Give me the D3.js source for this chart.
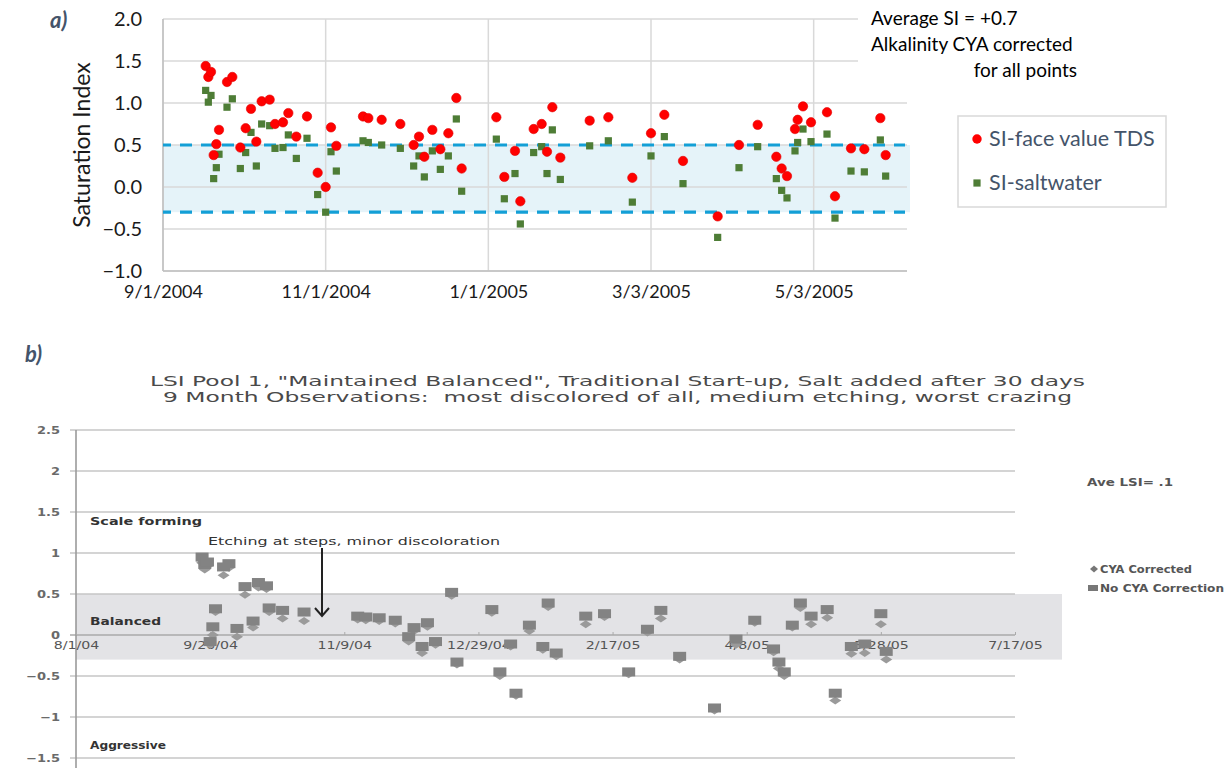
<!DOCTYPE html>
<html lang="en">
<head>
  <meta charset="UTF-8">
  <title>Saturation Index</title>
  <script src="https://d3js.org/d3.v7.min.js"></script>
  <style>
    body { margin: 0; background: #fff; }
    svg { display: block; }
    .ta { font-family: Lato, "Open Sans", sans-serif; }
    .tb { font-family: "DejaVu Sans", Verdana, sans-serif; }
  </style>
</head>
<body>
<div id="chart"></div>
<script>
// ---------- panel a data ----------
var aDates = ["9/17/2004","9/18/2004","9/19/2004","9/20/2004","9/21/2004","9/22/2004","9/25/2004","9/27/2004","9/30/2004","10/2/2004",
  "10/4/2004","10/6/2004","10/8/2004","10/11/2004","10/13/2004","10/16/2004","10/18/2004","10/21/2004","10/25/2004","10/29/2004",
  "11/1/2004","11/3/2004","11/5/2004","11/15/2004","11/17/2004","11/22/2004","11/29/2004","12/4/2004","12/6/2004","12/8/2004",
  "12/11/2004","12/14/2004","12/17/2004","12/20/2004","12/22/2004","1/4/2005","1/7/2005","1/11/2005","1/13/2005","1/18/2005",
  "1/21/2005","1/23/2005","1/25/2005","1/28/2005","2/8/2005","2/15/2005","2/24/2005","3/3/2005","3/8/2005","3/15/2005",
  "3/28/2005","4/5/2005","4/12/2005","4/19/2005","4/21/2005","4/23/2005","4/26/2005","4/27/2005","4/29/2005","5/2/2005",
  "5/8/2005","5/11/2005","5/17/2005","5/22/2005","5/28/2005","5/30/2005"];
var aFaceTDS = [1.44,1.31,1.37,0.38,0.51,0.68,1.25,1.31,0.47,0.70,0.93,0.54,1.02,1.04,0.75,0.77,0.88,0.60,0.84,0.17,
  0.00,0.71,0.49,0.84,0.82,0.80,0.75,0.50,0.60,0.36,0.68,0.45,0.64,1.06,0.22,0.83,0.12,0.43,-0.17,0.69,
  0.75,0.42,0.95,0.35,0.79,0.83,0.11,0.64,0.86,0.31,-0.35,0.50,0.74,0.36,0.22,0.13,0.69,0.80,0.96,0.77,
  0.89,-0.11,0.46,0.45,0.82,0.38];
var aSaltwater = [1.15,1.01,1.09,0.10,0.23,0.39,0.95,1.05,0.22,0.41,0.65,0.25,0.75,0.73,0.46,0.47,0.62,0.34,0.58,-0.09,
  -0.30,0.42,0.19,0.55,0.53,0.50,0.46,0.25,0.37,0.12,0.43,0.21,0.37,0.81,-0.05,0.57,-0.14,0.16,-0.44,0.41,
  0.48,0.16,0.68,0.09,0.49,0.55,-0.18,0.37,0.60,0.04,-0.60,0.23,0.48,0.10,-0.04,-0.13,0.43,0.53,0.69,0.54,
  0.63,-0.37,0.19,0.18,0.56,0.13];
var aXTicks = ["9/1/2004","11/1/2004","1/1/2005","3/3/2005","5/3/2005"];
var aYTicks = [-1, -0.5, 0, 0.5, 1, 1.5, 2];
var aBand = [-0.3, 0.5];

// ---------- panel b data ----------
var bDates = ["9/17/2004","9/18/2004","9/19/2004","9/20/2004","9/21/2004","9/22/2004","9/25/2004","9/27/2004","9/30/2004","10/3/2004",
  "10/6/2004","10/8/2004","10/11/2004","10/12/2004","10/17/2004","10/25/2004","11/14/2004","11/17/2004","11/22/2004","11/28/2004",
  "12/3/2004","12/5/2004","12/8/2004","12/10/2004","12/13/2004","12/19/2004","12/21/2004","1/3/2005","1/6/2005","1/10/2005",
  "1/12/2005","1/17/2005","1/22/2005","1/24/2005","1/27/2005","2/7/2005","2/14/2005","2/23/2005","3/2/2005","3/7/2005",
  "3/14/2005","3/27/2005","4/4/2005","4/11/2005","4/18/2005","4/20/2005","4/22/2005","4/25/2005","4/28/2005","5/2/2005",
  "5/8/2005","5/11/2005","5/17/2005","5/22/2005","5/28/2005","5/30/2005"];
var bNoCYA = [0.95,0.86,0.89,-0.08,0.10,0.32,0.83,0.87,0.08,0.59,0.17,0.64,0.60,0.33,0.30,0.28,0.23,0.22,0.21,0.18,
  -0.02,0.09,-0.14,0.15,-0.08,0.52,-0.33,0.31,-0.45,-0.11,-0.71,0.12,-0.14,0.39,-0.22,0.23,0.26,-0.45,0.07,0.30,
  -0.26,-0.89,-0.05,0.18,-0.17,-0.33,-0.45,0.12,0.39,0.23,0.31,-0.71,-0.14,-0.11,0.26,-0.20];
var bCYA = [0.88,0.80,0.84,-0.12,0.00,0.28,0.73,0.82,-0.02,0.49,0.09,0.58,0.56,0.28,0.20,0.17,0.19,0.18,0.17,0.14,
  -0.08,0.05,-0.22,0.10,-0.12,0.48,-0.36,0.27,-0.50,-0.14,-0.74,0.05,-0.18,0.34,-0.26,0.13,0.22,-0.48,0.03,0.20,
  -0.30,-0.92,-0.12,0.15,-0.21,-0.41,-0.50,0.09,0.33,0.13,0.21,-0.80,-0.23,-0.22,0.13,-0.30];
var bXTicks = ["8/1/2004","9/20/2004","11/9/2004","12/29/2004","2/17/2005","4/8/2005","5/28/2005","7/17/2005"];
var bYTicks = [-1.5, -1, -0.5, 0, 0.5, 1, 1.5, 2, 2.5];
var bBand = [-0.3, 0.5];

var parse = d3.utcParse("%m/%d/%Y");

// the second figure is a horizontally stretched scan: widen its glyphs
function stretch(sel, k) {
  sel.each(function() {
    var w = this.getComputedTextLength();
    d3.select(this).attr("textLength", w * k).attr("lengthAdjust", "spacingAndGlyphs");
  });
}

var svg = d3.select("#chart").append("svg")
  .attr("width", 1231).attr("height", 768);

// =============== PANEL A ===============
var ax = d3.scaleUtc().domain([parse("9/1/2004"), parse("6/7/2005")]).range([163, 907]);
var ay = d3.scaleLinear().domain([-1, 2]).range([271, 19]);
var ga = svg.append("g").attr("class", "ta");

// shaded band + gridlines
ga.append("rect")
  .attr("x", ax.range()[0]).attr("width", 910 - ax.range()[0])
  .attr("y", ay(aBand[1])).attr("height", ay(aBand[0]) - ay(aBand[1]))
  .attr("fill", "#e5f3f9");
ga.selectAll(".hg").data(aYTicks).enter().append("line")
  .attr("x1", ax.range()[0]).attr("x2", ax.range()[1])
  .attr("y1", d => ay(d)).attr("y2", d => ay(d))
  .attr("stroke", "#d9d9d9").attr("stroke-width", 1.5);
ga.selectAll(".vg").data(aXTicks.map(parse)).enter().append("line")
  .attr("x1", d => ax(d)).attr("x2", d => ax(d))
  .attr("y1", ay(2)).attr("y2", ay(-1))
  .attr("stroke", "#d9d9d9").attr("stroke-width", 1.5);
ga.append("line").attr("x1", ax.range()[0]).attr("x2", ax.range()[0]).attr("y1", ay(2)).attr("y2", ay(-1))
  .attr("stroke", "#bfbfbf").attr("stroke-width", 1.5);
ga.append("line").attr("x1", ax.range()[0]).attr("x2", ax.range()[1]).attr("y1", ay(-1)).attr("y2", ay(-1))
  .attr("stroke", "#bfbfbf").attr("stroke-width", 1.5);

// dashed limits
ga.selectAll(".dash").data(aBand).enter().append("line")
  .attr("x1", 163).attr("x2", 905)
  .attr("y1", d => ay(d)).attr("y2", d => ay(d))
  .attr("stroke", "#139fd6").attr("stroke-width", 3.2)
  .attr("stroke-dasharray", "12,9").attr("stroke-dashoffset", 4);

// axes labels
var yA = d3.axisLeft(ay).tickValues(aYTicks).tickFormat(d3.format(".1f")).tickSize(0).tickPadding(21);
ga.append("g").attr("transform", "translate(163,0)").call(yA)
  .call(g => g.select(".domain").remove())
  .selectAll("text").attr("font-size", 20).attr("fill", "#1a1a1a").attr("font-family", "Lato, sans-serif");
var xA = d3.axisBottom(ax).tickValues(aXTicks.map(parse)).tickFormat(d3.utcFormat("%-m/%-d/%Y")).tickSize(0).tickPadding(14);
ga.append("g").attr("transform", "translate(0," + ay(-1) + ")").call(xA)
  .call(g => g.select(".domain").remove())
  .selectAll("text").attr("font-size", 18).attr("fill", "#1a1a1a").attr("font-family", "Lato, sans-serif");

ga.append("text").attr("transform", "translate(90,145) rotate(-90)")
  .attr("text-anchor", "middle").attr("font-size", 23).attr("fill", "#1a1a1a")
  .text("Saturation Index");

// markers
ga.selectAll(".sw").data(aDates).enter().append("rect")
  .attr("x", (d, i) => ax(parse(d)) - 3.6).attr("y", (d, i) => ay(aSaltwater[i]) - 3.6)
  .attr("width", 7.2).attr("height", 7.2).attr("fill", "#4e7d36");
ga.selectAll(".tds").data(aDates).enter().append("circle")
  .attr("cx", d => ax(parse(d))).attr("cy", (d, i) => ay(aFaceTDS[i]))
  .attr("r", 4.7).attr("fill", "#ff0000").attr("stroke", "#e00000").attr("stroke-width", 0.6);

// annotation box
ga.append("rect").attr("x", 858).attr("y", 0).attr("width", 240).attr("height", 86).attr("fill", "#fff");
ga.append("text").attr("x", 871).attr("y", 25).attr("font-size", 19).attr("fill", "#000").text("Average SI = +0.7");
ga.append("text").attr("x", 871).attr("y", 51).attr("font-size", 19).attr("fill", "#000").text("Alkalinity CYA corrected");
ga.append("text").attr("x", 1077).attr("y", 77).attr("font-size", 19).attr("fill", "#000").attr("text-anchor", "end").text("for all points");

// legend
ga.append("rect").attr("x", 958).attr("y", 116).attr("width", 208).attr("height", 91)
  .attr("fill", "#fff").attr("stroke", "#d9d9d9").attr("stroke-width", 1.5);
ga.append("circle").attr("cx", 977).attr("cy", 139).attr("r", 4.7).attr("fill", "#ff0000");
ga.append("text").attr("x", 989).attr("y", 146).attr("font-size", 21.5).attr("fill", "#44546a").text("SI-face value TDS");
ga.append("rect").attr("x", 973.4).attr("y", 179.4).attr("width", 7.2).attr("height", 7.2).attr("fill", "#4e7d36");
ga.append("text").attr("x", 989).attr("y", 190).attr("font-size", 21.5).attr("fill", "#44546a").text("SI-saltwater");

svg.append("text").attr("x", 50).attr("y", 28).attr("font-family", "Lato, sans-serif")
  .attr("font-size", 22).attr("font-weight", "bold").attr("font-style", "italic").attr("fill", "#44546a").text("a)");

// =============== PANEL B ===============
var bx = d3.scaleUtc().domain([parse("8/1/2004"), parse("7/17/2005")]).range([76, 1015]);
var by = d3.scaleLinear().domain([-1.5, 2.5]).range([758, 430]);
var gb = svg.append("g").attr("class", "tb");

svg.append("text").attr("x", 25).attr("y", 362).attr("font-family", "Lato, sans-serif")
  .attr("font-size", 22).attr("font-weight", "bold").attr("font-style", "italic").attr("fill", "#44546a").text("b)");

gb.append("text").attr("x", 150).attr("y", 386).attr("font-size", 14).attr("fill", "#4a4a4a")
  .attr("textLength", 935).attr("lengthAdjust", "spacingAndGlyphs")
  .text("LSI Pool 1, \"Maintained Balanced\", Traditional Start-up, Salt added after 30 days");
gb.append("text").attr("x", 163).attr("y", 402).attr("font-size", 14).attr("fill", "#4a4a4a")
  .attr("textLength", 909).attr("lengthAdjust", "spacingAndGlyphs").style("white-space", "pre")
  .text("9 Month Observations:  most discolored of all, medium etching, worst crazing");

gb.append("rect").attr("x", 76).attr("width", 1062 - 76)
  .attr("y", by(bBand[1])).attr("height", by(bBand[0]) - by(bBand[1]))
  .attr("fill", "#e3e3e6");

gb.selectAll(".hg").data(bYTicks).enter().append("line")
  .attr("x1", 70).attr("x2", bx.range()[1])
  .attr("y1", d => by(d)).attr("y2", d => by(d))
  .attr("stroke", d => d === 0 ? "#aaaaaa" : "#c6c6c6").attr("stroke-width", 1.6);
gb.append("line").attr("x1", 76).attr("x2", 76).attr("y1", by(2.5)).attr("y2", 768)
  .attr("stroke", "#9a9a9a").attr("stroke-width", 1.6);

var yB = d3.axisLeft(by).tickValues(bYTicks).tickFormat(d3.format("")).tickSize(0).tickPadding(16);
gb.append("g").attr("transform", "translate(76,0)").call(yB)
  .call(g => g.select(".domain").remove())
  .selectAll("text").attr("font-size", 10).attr("font-weight", "bold").attr("fill", "#6a6a6a")
  .attr("font-family", "DejaVu Sans, sans-serif")
  .call(stretch, 1.3);

var xB = d3.axisBottom(bx).tickValues(bXTicks.map(parse)).tickFormat(d3.utcFormat("%-m/%-d/%y")).tickSize(-3).tickPadding(8);
gb.append("g").attr("transform", "translate(0," + by(0) + ")").call(xB)
  .call(g => g.select(".domain").remove())
  .call(g => g.selectAll("line").attr("stroke", "#aaaaaa"))
  .selectAll("text").attr("font-size", 10.5).attr("fill", "#555").attr("dy", "0.6em")
  .attr("font-family", "DejaVu Sans, sans-serif")
  .call(stretch, 1.35);

var sq = "#838383", dia = "#9a9a9a";
gb.selectAll(".cya").data(bDates).enter().append("path")
  .attr("d", "M0,-4L6,0L0,4L-6,0Z")
  .attr("transform", (d, i) => "translate(" + bx(parse(d)) + "," + by(bCYA[i]) + ")")
  .attr("fill", dia);
gb.selectAll(".nocya").data(bDates).enter().append("rect")
  .attr("x", d => bx(parse(d)) - 6.5).attr("y", (d, i) => by(bNoCYA[i]) - 4.5)
  .attr("width", 13).attr("height", 9).attr("fill", sq);

gb.append("text").attr("x", 90).attr("y", 525).attr("font-size", 11).attr("font-weight", "bold").attr("fill", "#333")
  .attr("textLength", 112).attr("lengthAdjust", "spacingAndGlyphs").text("Scale forming");
gb.append("text").attr("x", 90).attr("y", 625).attr("font-size", 11).attr("font-weight", "bold").attr("fill", "#333")
  .attr("textLength", 71).attr("lengthAdjust", "spacingAndGlyphs").text("Balanced");
gb.append("text").attr("x", 90).attr("y", 749).attr("font-size", 11).attr("font-weight", "bold").attr("fill", "#333")
  .attr("textLength", 76).attr("lengthAdjust", "spacingAndGlyphs").text("Aggressive");

gb.append("text").attr("x", 208).attr("y", 545).attr("font-size", 11).attr("fill", "#333")
  .attr("textLength", 292).attr("lengthAdjust", "spacingAndGlyphs").text("Etching at steps, minor discoloration");
gb.append("line").attr("x1", 322).attr("x2", 322).attr("y1", 548).attr("y2", 616)
  .attr("stroke", "#222").attr("stroke-width", 2);
gb.append("path").attr("d", "M315,608L322,616L329,608").attr("fill", "none")
  .attr("stroke", "#222").attr("stroke-width", 2);

gb.append("text").attr("x", 1087).attr("y", 486).attr("font-size", 10.5).attr("font-weight", "bold").attr("fill", "#555")
  .attr("textLength", 86).attr("lengthAdjust", "spacingAndGlyphs").text("Ave LSI= .1");
gb.append("path").attr("d", "M0,-3.5L4,0L0,3.5L-4,0Z").attr("transform", "translate(1094,569)").attr("fill", "#777");
gb.append("text").attr("x", 1100).attr("y", 573).attr("font-size", 10.5).attr("font-weight", "bold").attr("fill", "#555")
  .attr("textLength", 92).attr("lengthAdjust", "spacingAndGlyphs").text("CYA Corrected");
gb.append("rect").attr("x", 1088).attr("y", 585).attr("width", 10).attr("height", 6).attr("fill", "#777");
gb.append("text").attr("x", 1100).attr("y", 592).attr("font-size", 10.5).attr("font-weight", "bold").attr("fill", "#555")
  .attr("textLength", 124).attr("lengthAdjust", "spacingAndGlyphs").text("No CYA Correction");
</script>
</body>
</html>
